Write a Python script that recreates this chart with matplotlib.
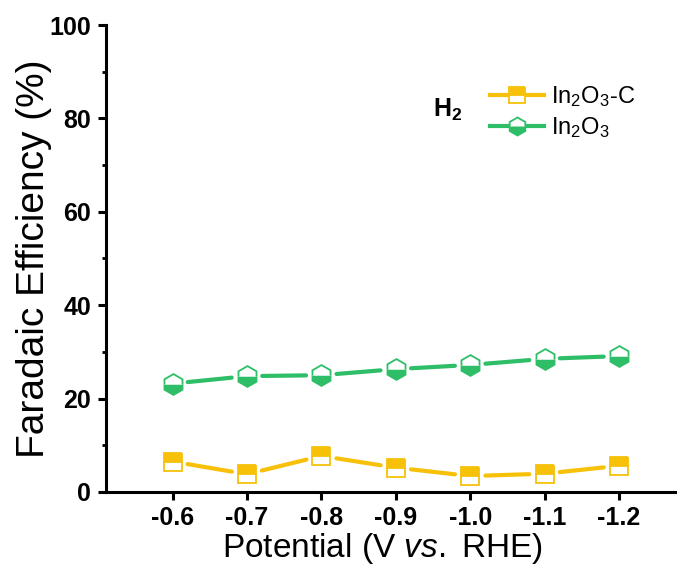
import matplotlib
matplotlib.use("Agg")
import matplotlib.pyplot as plt
from matplotlib.lines import Line2D
from matplotlib.ticker import MultipleLocator

plt.rcParams['font.family'] = ['Liberation Sans', 'DejaVu Sans']
plt.rcParams['mathtext.fontset'] = 'custom'
plt.rcParams['mathtext.rm'] = 'Liberation Sans'
plt.rcParams['mathtext.it'] = 'Liberation Sans:italic'
plt.rcParams['mathtext.bf'] = 'Liberation Sans:bold'

# Data
potentials = ['-0.6', '-0.7', '-0.8', '-0.9', '-1.0', '-1.1', '-1.2']
fe_in2o3_c = [6.5, 3.8, 7.7, 5.2, 3.4, 3.9, 5.6]
fe_in2o3 = [23.2, 24.8, 25.0, 26.3, 27.2, 28.5, 29.1]

yellow = '#F7C10A'
green = '#2EBE68'

fig = plt.figure(figsize=(6.77, 5.70), dpi=100)
ax = fig.add_axes([0.157, 0.137, 0.843, 0.819])

x = list(range(len(potentials)))


def draw_series(xs, ys, color, marker, fill, msize):
    # connecting segments stop short of each marker
    for i in range(len(xs) - 1):
        ax.annotate('', xy=(xs[i + 1], ys[i + 1]), xytext=(xs[i], ys[i]),
                    arrowprops=dict(arrowstyle='-', color=color, lw=3,
                                    shrinkA=11, shrinkB=11))
    ax.plot(xs, ys, linestyle='none', marker=marker, markersize=msize,
            fillstyle=fill, markerfacecolor=color, markerfacecoloralt='white',
            markeredgecolor=color, markeredgewidth=1.3, zorder=3)


draw_series(x, fe_in2o3_c, yellow, 's', 'top', 13)
draw_series(x, fe_in2o3, green, 'h', 'bottom', 15)

ax.set_xlim(-0.89, 6.78)
ax.set_ylim(0, 100)
ax.set_xticks(x)
ax.set_xticklabels(potentials)
ax.yaxis.set_major_locator(MultipleLocator(20))
ax.yaxis.set_minor_locator(MultipleLocator(10))

for side in ('top', 'right'):
    ax.spines[side].set_visible(False)
for side in ('left', 'bottom'):
    ax.spines[side].set_linewidth(2.2)

ax.tick_params(axis='both', which='major', direction='out', length=6, width=2.2,
               labelsize=18)
ax.tick_params(axis='x', which='major', pad=4)
ax.tick_params(axis='y', which='major', pad=5)
ax.tick_params(axis='y', which='minor', direction='out', length=3, width=2)
for lab in ax.get_xticklabels() + ax.get_yticklabels():
    lab.set_fontweight('bold')

ax.set_xlabel(r'Potential (V $\mathit{vs.}$ RHE)', fontsize=24)
ax.xaxis.set_label_coords(0.483, -0.122, transform=ax.transAxes)
ax.xaxis.label.set_verticalalignment('center')
ax.set_ylabel('Faradaic Efficiency (%)', fontsize=28, labelpad=-2)

ax.text(433 / 677, 1 - 110 / 570, r'$\mathbf{H_2}$', transform=fig.transFigure,
        fontsize=18, ha='left', va='center')

handles = [
    Line2D([], [], color=yellow, lw=3, marker='s', markersize=12,
           fillstyle='top', markerfacecolor=yellow, markerfacecoloralt='white',
           markeredgecolor=yellow, markeredgewidth=1.3),
    Line2D([], [], color=green, lw=3, marker='h', markersize=13,
           fillstyle='bottom', markerfacecolor=green, markerfacecoloralt='white',
           markeredgecolor=green, markeredgewidth=1.3),
]
labels = [r'In$_2$O$_3$-C', r'In$_2$O$_3$']
ax.legend(handles, labels, loc='upper left', bbox_to_anchor=(0.655, 0.893),
          frameon=False, fontsize=17, handlelength=2.3, handletextpad=0.3,
          labelspacing=0.25, borderaxespad=0)

fig.savefig('out.png', dpi=100)
